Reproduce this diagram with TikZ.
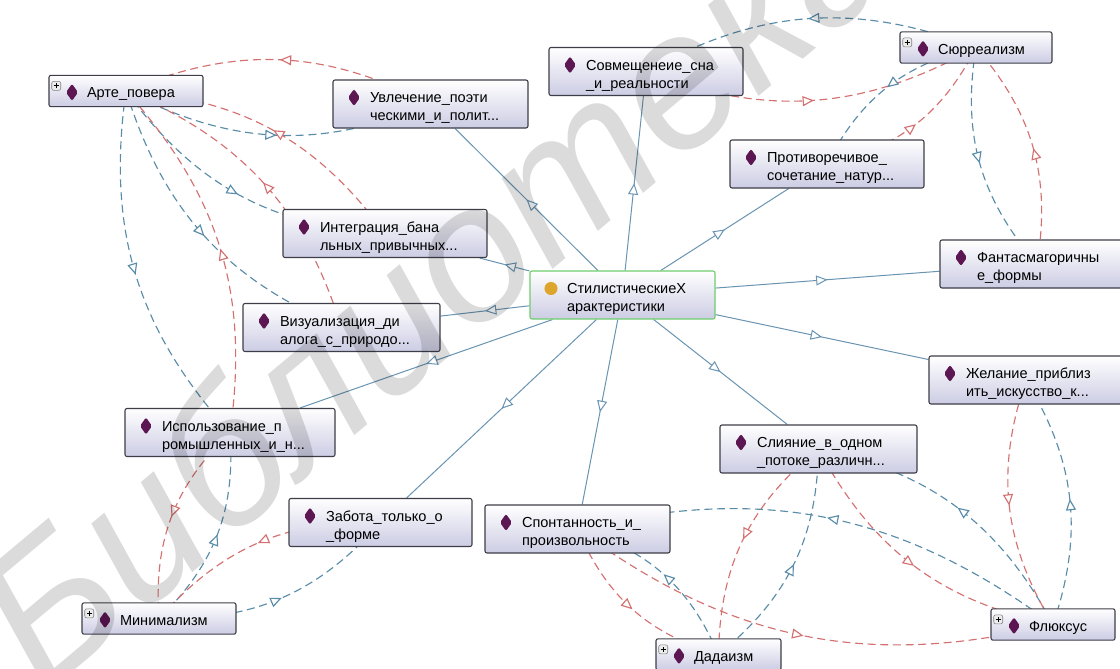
\documentclass[tikz,border=0pt]{standalone}
\usepackage{fontspec}
\setmainfont{Liberation Sans}
\usetikzlibrary{arrows.meta,decorations.markings}
\pgfdeclarelayer{background}
\pgfdeclarelayer{foreground}
\pgfsetlayers{background,main,foreground}

\definecolor{boxline}{RGB}{62,62,72}
\definecolor{boxfill}{RGB}{204,204,228}
\definecolor{rootline}{RGB}{110,205,110}
\definecolor{diamondc}{RGB}{92,22,82}
\definecolor{rootdot}{RGB}{222,165,45}
\definecolor{linkblue}{RGB}{105,148,178}
\definecolor{dashblue}{RGB}{88,140,168}
\definecolor{dashred}{RGB}{212,112,112}

%icons in front of the labels
\newcommand{\diaicon}{\tikz[baseline=-4pt]\fill[diamondc] (0,-6.4pt) -- (4.5pt,0pt) -- (0,6.4pt) -- (-4.5pt,0pt) -- cycle;}
\newcommand{\rooticon}{\tikz[baseline=-4pt]\fill[rootdot] (0,0) circle[radius=4.9pt];}
\newcommand{\plusicon}{\tikz[baseline=0pt]{\filldraw[draw=gray,fill=gray!15,line width=0.4pt] (0,5.5pt) rectangle (6.75pt,12.25pt);
  \draw[line width=0.6pt] (1.5pt,8.875pt) -- (5.25pt,8.875pt) (3.375pt,7pt) -- (3.375pt,10.75pt);}}

\begin{document}
\begin{tikzpicture}[x=0.75pt,y=-0.75pt,
  font=\fontsize{10.9}{13.5}\selectfont,
  basebox/.style={draw=boxline, line width=0.8pt, rounded corners=1.5pt,
    top color=white, bottom color=boxfill, minimum height=36pt,
    inner xsep=0pt, inner ysep=0pt, text width=#1, align=left,
    execute at begin node={\hyphenpenalty=10000\relax}},
  charbox/.style={basebox=#1,
    execute at begin node={\leftskip=27.75pt\rule{0pt}{14pt}\llap{\diaicon\hspace{7.5pt}}}},
  rootbox/.style={basebox=#1, draw=rootline,
    execute at begin node={\leftskip=27.75pt\rule{0pt}{14pt}\llap{\rooticon\hspace{7.1pt}}}},
  groupbox/.style={basebox=#1, minimum height=23.5pt,
    execute at begin node={\leftskip=28.5pt\rule{0pt}{10pt}\llap{\plusicon\hspace{3.75pt}\diaicon\hspace{6.75pt}}}},
  midtip/.style={postaction={decorate}, decoration={markings,
    mark=at position 0.5 with {\arrow{Triangle[fill=white,length=8.5pt,width=7.5pt]}}}},
  haslink/.style={linkblue, line width=0.75pt, midtip},
  tolink/.style={dashblue, line width=0.85pt, dash pattern=on 6pt off 3.5pt, bend right=25, midtip},
  backlink/.style={dashred, line width=0.85pt, dash pattern=on 6pt off 3.5pt, bend right=25, midtip},
  watermark/.style={anchor=base west, rotate=40, text=black, text opacity=0.14,
    font=\fontsize{145}{145}\selectfont\itshape}]

\useasboundingbox (0,0) rectangle (1120,668);

%root class
\node[rootbox=138.75pt] (stil) at (622.5,295) {СтилистическиеХ\\арактеристики};

%characteristics
\node[charbox=146.25pt] (uvl) at (430.5,104) {Увлечение\_поэти\\ческими\_и\_полит...};
\node[charbox=145.5pt] (sovm) at (646,71.5) {Совмещенеие\_сна\\\_и\_реальности};
\node[charbox=145.5pt] (protiv) at (827,164) {Противоречивое\_\\сочетание\_натур...};
\node[charbox=153pt] (integr) at (385,233.5) {Интеграция\_бана\\льных\_привычных...};
\node[charbox=145.5pt] (fant) at (1037,264) {Фантасмагоричны\\е\_формы};
\node[charbox=147.75pt] (vizual) at (341.5,327.5) {Визуализация\_ди\\алога\_с\_природо...};
\node[charbox=145.5pt] (zhel) at (1026,380) {Желание\_приблиз\\ить\_искусство\_к...};
\node[charbox=157.5pt] (ispol) at (230,432.5) {Использование\_п\\ромышленных\_и\_н...};
\node[charbox=147.75pt] (slian) at (818.5,449) {Слияние\_в\_одном\\\_потоке\_различн...};
\node[charbox=137.25pt] (zabota) at (380.5,522.5) {Забота\_только\_о\\\_форме};
\node[charbox=138.75pt] (spont) at (577.5,529) {Спонтанность\_и\_\\произвольность};

%art movements
\node[groupbox=115.5pt] (arte) at (126,91) {Арте\_повера};
\node[groupbox=114pt] (syur) at (976,47.5) {Сюрреализм};
\node[groupbox=115.5pt] (minim) at (159,618.5) {Минимализм};
\node[groupbox=93.75pt] (dada) at (718.5,654.5) {Дадаизм};
\node[groupbox=93pt] (flux) at (1053,624.5) {Флюксус};

\begin{pgfonlayer}{background}
\fill[white] (0,0) rectangle (1120,668);

%edges from the root
\draw[haslink] (stil) -- (uvl);
\draw[haslink] (stil) -- (sovm);
\draw[haslink] (stil) -- (protiv);
\draw[haslink] (stil) -- (fant);
\draw[haslink] (stil) -- (zhel);
\draw[haslink] (stil) -- (slian);
\draw[haslink] (stil) -- (spont);
\draw[haslink] (stil) -- (zabota);
\draw[haslink] (stil) -- (ispol);
\draw[haslink] (stil) -- (vizual);
\draw[haslink] (stil) -- (integr);

%arte povera
\draw[tolink] (arte.center) to (uvl.center);
\draw[backlink] (uvl.center) to (arte.center);
\draw[tolink] (arte.center) to (integr.center);
\draw[backlink] (integr.center) to (arte.center);
\draw[tolink] (arte.center) to (vizual.center);
\draw[backlink] (vizual.center) to (arte.center);
\draw[tolink] (arte.center) to (ispol.center);
\draw[backlink] (ispol.center) to (arte.center);

%surrealism
\draw[tolink] (syur.center) to (sovm.center);
\draw[backlink] (sovm.center) to (syur.center);
\draw[tolink] (syur.center) to (protiv.center);
\draw[backlink] (protiv.center) to (syur.center);
\draw[tolink] (syur.center) to (fant.center);
\draw[backlink] (fant.center) to (syur.center);

%minimalism
\draw[tolink] (minim.center) to (ispol.center);
\draw[backlink] (ispol.center) to (minim.center);
\draw[tolink] (minim.center) to (zabota.center);
\draw[backlink] (zabota.center) to (minim.center);

%dadaism
\draw[tolink] (dada.center) to (spont.center);
\draw[backlink] (spont.center) to (dada.center);
\draw[tolink] (dada.center) to (slian.center);
\draw[backlink] (slian.center) to (dada.center);

%fluxus
\draw[tolink] (flux.center) to (slian.center);
\draw[backlink] (slian.center) to (flux.center);
\draw[tolink] (flux.center) to (spont.center);
\draw[backlink] (spont.center) to (flux.center);
\draw[tolink] (flux.center) to (zhel.center);
\draw[backlink] (zhel.center) to (flux.center);
\end{pgfonlayer}

\begin{pgfonlayer}{foreground}
\node[watermark] (wmark) at (40,700) {Библиотека};
\end{pgfonlayer}

\end{tikzpicture}
\end{document}
